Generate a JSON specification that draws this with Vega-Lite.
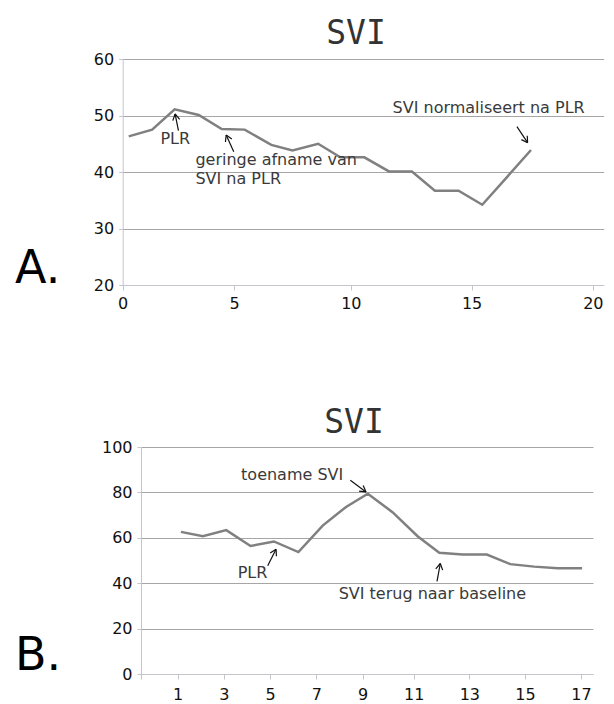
{
  "$schema": "https://vega.github.io/schema/vega-lite/v6.json",
  "background": "white",
  "padding": {"left": 14, "top": 18, "right": 0, "bottom": 0},
  "spacing": 96,
  "columns": 1,
  "align": "none",
  "config": {
    "view": {"stroke": null},
    "axis": {
      "labelFont": "DejaVu Sans",
      "labelFontSize": 16,
      "labelColor": "#111111",
      "domainColor": "#c4c4cc",
      "tickColor": "#c4c4cc",
      "gridColor": "#a6a6a6",
      "labelFlush": false,
      "labelOverlap": false,
      "labelBound": false
    }
  },
  "datasets": {
    "topSeries": [
      {"x": 0.27, "svi": 46.3}, {"x": 1.32, "svi": 47.5}, {"x": 2.33, "svi": 51.1},
      {"x": 3.41, "svi": 50.1}, {"x": 4.44, "svi": 47.6}, {"x": 5.45, "svi": 47.5},
      {"x": 6.59, "svi": 44.8}, {"x": 7.5, "svi": 43.8}, {"x": 8.6, "svi": 45.0},
      {"x": 9.55, "svi": 42.6}, {"x": 10.56, "svi": 42.6}, {"x": 11.58, "svi": 40.1},
      {"x": 12.53, "svi": 40.1}, {"x": 13.48, "svi": 36.7}, {"x": 14.46, "svi": 36.7},
      {"x": 15.44, "svi": 34.2}, {"x": 16.46, "svi": 39.1}, {"x": 17.45, "svi": 43.9}
    ],
    "topText": [
      {"x": 1.69, "y": 45.0, "label": "PLR"},
      {"x": 3.26, "y": 41.24, "label": "geringe afname van"},
      {"x": 3.26, "y": 37.82, "label": "SVI na PLR"},
      {"x": 11.73, "y": 50.39, "label": "SVI normaliseert na PLR"}
    ],
    "topArrows": [
      {"x": 2.5, "y": 47.31, "x2": 2.35, "y2": 50.27},
      {"x": 2.35, "y": 50.27, "x2": 2.246, "y2": 49.09},
      {"x": 2.35, "y": 50.27, "x2": 2.554, "y2": 49.33},
      {"x": 4.98, "y": 43.59, "x2": 4.64, "y2": 46.55},
      {"x": 4.64, "y": 46.55, "x2": 4.608, "y2": 45.32},
      {"x": 4.64, "y": 46.55, "x2": 4.893, "y2": 45.83},
      {"x": 16.87, "y": 48.02, "x2": 17.31, "y2": 45.19},
      {"x": 17.31, "y": 45.19, "x2": 17.295, "y2": 46.42},
      {"x": 17.31, "y": 45.19, "x2": 17.055, "y2": 45.73}
    ],
    "topPanel": [{"x": -4.83, "y": 20.3, "label": "A."}],
    "bottomSeries": [
      {"x": 1.14, "svi": 62.6}, {"x": 2.09, "svi": 60.7}, {"x": 3.1, "svi": 63.4},
      {"x": 4.15, "svi": 56.4}, {"x": 5.16, "svi": 58.4}, {"x": 6.22, "svi": 53.7},
      {"x": 7.27, "svi": 65.4}, {"x": 8.28, "svi": 73.6}, {"x": 9.2, "svi": 79.4},
      {"x": 10.18, "svi": 71.2}, {"x": 11.14, "svi": 60.7}, {"x": 11.92, "svi": 53.4},
      {"x": 12.76, "svi": 52.6}, {"x": 13.63, "svi": 52.6}, {"x": 14.47, "svi": 48.4},
      {"x": 15.33, "svi": 47.3}, {"x": 16.17, "svi": 46.6}, {"x": 17.04, "svi": 46.6}
    ],
    "bottomText": [
      {"x": 3.74, "y": 85.49, "label": "toename SVI"},
      {"x": 3.595, "y": 42.22, "label": "PLR"},
      {"x": 7.96, "y": 32.98, "label": "SVI terug naar baseline"}
    ],
    "bottomArrows": [
      {"x": 8.465, "y": 85.31, "x2": 9.129, "y2": 80.21},
      {"x": 9.129, "y": 80.21, "x2": 9.02, "y2": 83.03},
      {"x": 9.129, "y": 80.21, "x2": 8.844, "y2": 80.55},
      {"x": 4.893, "y": 47.67, "x2": 5.252, "y2": 54.97},
      {"x": 5.252, "y": 54.97, "x2": 4.999, "y2": 53.27},
      {"x": 5.252, "y": 54.97, "x2": 5.27, "y2": 51.9},
      {"x": 11.838, "y": 40.77, "x2": 11.957, "y2": 48.68},
      {"x": 11.957, "y": 48.68, "x2": 11.794, "y2": 46.34},
      {"x": 11.957, "y": 48.68, "x2": 12.041, "y2": 45.78}
    ],
    "bottomPanel": [{"x": -6.04, "y": 1.63, "label": "B."}]
  },
  "concat": [
    {
      "width": 463,
      "height": 226,
      "title": {"text": "SVI", "font": "DejaVu Sans Mono", "fontSize": 33, "fontWeight": "normal", "color": "#333333", "frame": "group", "anchor": "middle", "baseline": "alphabetic", "offset": -26, "dx": -16.5},
      "layer": [
        {
          "data": {"name": "topSeries"},
          "mark": {"type": "line", "color": "#808080", "strokeWidth": 2.5},
          "encoding": {
            "x": {"field": "x", "type": "quantitative", "title": null,
              "scale": {"domain": [0, 5, 10, 15, 20, 20.46], "range": [-18.3, 93.2, 209.8, 330.6, 451.8, 462.7], "nice": false, "zero": false},
              "axis": {"values": [0, 5, 10, 15, 20], "grid": false, "tickSize": 5, "labelPadding": 5}},
            "y": {"field": "svi", "type": "quantitative", "title": null,
              "scale": {"domain": [20, 60], "nice": false, "zero": false},
              "axis": {"values": [20, 30, 40, 50, 60], "grid": true, "tickSize": 4, "labelPadding": 5, "offset": 18.3,
                "gridColor": {"condition": {"test": "datum.value == 20", "value": "#c4c4cc"}, "value": "#a6a6a6"}}}
          }
        },
        {
          "data": {"name": "topArrows"},
          "mark": {"type": "rule", "color": "#111111", "strokeWidth": 1.2},
          "encoding": {
            "x": {"field": "x", "type": "quantitative"},
            "y": {"field": "y", "type": "quantitative"},
            "x2": {"field": "x2"},
            "y2": {"field": "y2"}
          }
        },
        {
          "data": {"name": "topText"},
          "mark": {"type": "text", "align": "left", "baseline": "alphabetic", "font": "DejaVu Sans", "fontSize": 16, "color": "#3a3a3a"},
          "encoding": {
            "x": {"field": "x", "type": "quantitative"},
            "y": {"field": "y", "type": "quantitative"},
            "text": {"field": "label"}
          }
        },
        {
          "data": {"name": "topPanel"},
          "mark": {"type": "text", "align": "left", "baseline": "alphabetic", "font": "DejaVu Sans", "fontSize": 46, "color": "#000000"},
          "encoding": {
            "x": {"field": "x", "type": "quantitative"},
            "y": {"field": "y", "type": "quantitative"},
            "text": {"field": "label"}
          }
        }
      ]
    },
    {
      "width": 452,
      "height": 227,
      "title": {"text": "SVI", "font": "DejaVu Sans Mono", "fontSize": 33, "fontWeight": "normal", "color": "#333333", "frame": "group", "anchor": "middle", "baseline": "alphabetic", "offset": -27, "dx": -13},
      "layer": [
        {
          "data": {"name": "bottomSeries"},
          "mark": {"type": "line", "color": "#808080", "strokeWidth": 2.5},
          "encoding": {
            "x": {"field": "x", "type": "quantitative", "title": null,
              "scale": {"domain": [-0.587, 1, 9, 11, 13, 15, 17, 17.43], "range": [0, 36.7, 221.7, 272.7, 328.3, 384, 440, 452], "nice": false, "zero": false},
              "axis": {"values": [-0.587, 1, 3, 5, 7, 9, 11, 13, 15, 17], "labelExpr": "datum.value < 0 ? '' : datum.label", "grid": false, "tickSize": 5, "labelPadding": 7}},
            "y": {"field": "svi", "type": "quantitative", "title": null,
              "scale": {"domain": [0, 100], "nice": false, "zero": false},
              "axis": {"values": [0, 20, 40, 60, 80, 100], "grid": true, "tickSize": 4, "labelPadding": 5,
                "gridColor": {"condition": {"test": "datum.value == 0", "value": "#c4c4cc"}, "value": "#a6a6a6"}}}
          }
        },
        {
          "data": {"name": "bottomArrows"},
          "mark": {"type": "rule", "color": "#111111", "strokeWidth": 1.2},
          "encoding": {
            "x": {"field": "x", "type": "quantitative"},
            "y": {"field": "y", "type": "quantitative"},
            "x2": {"field": "x2"},
            "y2": {"field": "y2"}
          }
        },
        {
          "data": {"name": "bottomText"},
          "mark": {"type": "text", "align": "left", "baseline": "alphabetic", "font": "DejaVu Sans", "fontSize": 16, "color": "#3a3a3a"},
          "encoding": {
            "x": {"field": "x", "type": "quantitative"},
            "y": {"field": "y", "type": "quantitative"},
            "text": {"field": "label"}
          }
        },
        {
          "data": {"name": "bottomPanel"},
          "mark": {"type": "text", "align": "left", "baseline": "alphabetic", "font": "DejaVu Sans", "fontSize": 46, "color": "#000000"},
          "encoding": {
            "x": {"field": "x", "type": "quantitative"},
            "y": {"field": "y", "type": "quantitative"},
            "text": {"field": "label"}
          }
        }
      ]
    }
  ]
}
